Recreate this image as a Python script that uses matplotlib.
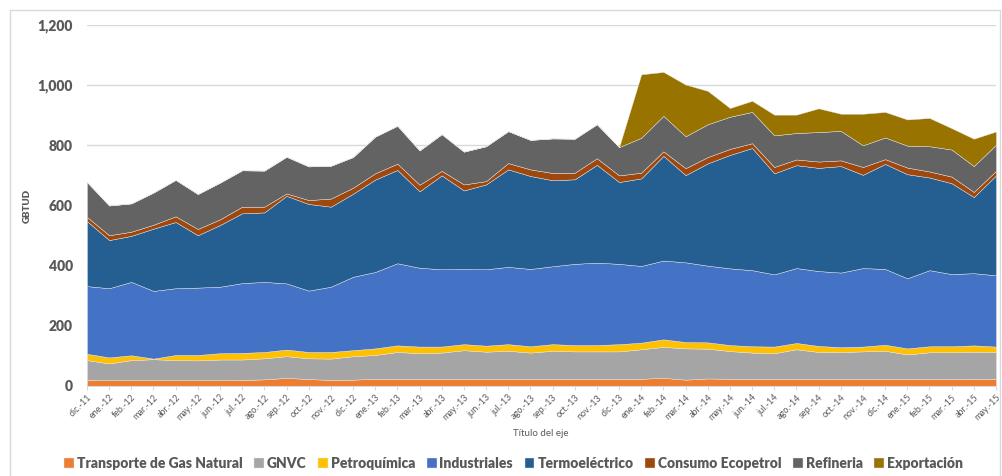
import matplotlib
matplotlib.use("Agg")
import matplotlib.pyplot as plt
from matplotlib.patches import Rectangle

plt.rcParams['font.family'] = ['Lato', 'DejaVu Sans']

meses = ["dic", "ene", "feb", "mar", "abr", "may", "jun", "jul", "ago", "sep", "oct", "nov"]
labels = []
for i in range(42):
    m = (11 + i) % 12
    yr = 11 + (11 + i) // 12
    labels.append("%s.-%d" % (meses[(m + 1) % 12], yr))

transporte = [20, 19, 19, 19, 19, 19, 19, 20, 22, 27, 23, 20, 21, 24, 24, 24, 24, 24, 24, 24, 24,
              24, 24, 24, 24, 24, 27, 21, 25, 24, 24, 24, 24, 24, 24, 24, 24, 24, 24, 23, 24, 24]
gnvc = [66, 56, 67, 70, 67, 66, 69, 68, 70, 72, 69, 71, 78, 79, 89, 85, 87, 95, 90, 93, 87,
        93, 91, 91, 91, 98, 103, 104, 99, 92, 87, 85, 98, 89, 89, 91, 93, 81, 88, 89, 90, 89]
petroquimica = [21, 20, 16, 2, 17, 18, 21, 22, 21, 22, 21, 22, 20, 22, 22, 22, 20, 20, 20, 22, 21,
                22, 21, 21, 24, 22, 25, 21, 21, 20, 21, 22, 21, 20, 16, 16, 20, 20, 20, 20, 21, 18]
industriales = [225, 230, 244, 225, 222, 224, 221, 232, 233, 220, 204, 217, 244, 254, 273, 262, 257,
                250, 254, 257, 257, 259, 270, 274, 267, 255, 262, 265, 255, 255, 253, 240, 249, 249,
                248, 261, 252, 233, 253, 240, 240, 237]
termoelectrico = [216, 160, 153, 207, 220, 174, 205, 232, 231, 291, 288, 266, 276, 307, 310, 254, 312,
                  261, 282, 324, 309, 286, 281, 325, 272, 291, 348, 290, 340, 377, 406, 336, 342, 343,
                  354, 310, 349, 346, 308, 302, 253, 332]
consumo = [14, 16, 14, 13, 19, 21, 19, 22, 19, 8, 13, 27, 20, 21, 21, 22, 15, 20, 11, 21, 22,
           24, 22, 22, 22, 19, 15, 23, 21, 20, 16, 21, 19, 21, 19, 26, 16, 22, 20, 22, 17, 15]
refineria = [116, 99, 94, 107, 121, 116, 122, 121, 120, 122, 112, 109, 102, 122, 126, 114, 122, 109,
             116, 106, 98, 115, 113, 113, 94, 116, 118, 106, 109, 107, 104, 105, 88, 98, 98, 72, 72,
             73, 84, 90, 86, 87]
exportacion = [0] * 25 + [211, 146, 172, 111, 29, 37, 69, 61, 79, 57, 105, 85, 87, 94, 71, 91, 44]

series = [transporte, gnvc, petroquimica, industriales, termoelectrico, consumo, refineria, exportacion]
nombres = ["Transporte de Gas Natural", "GNVC", "Petroquímica", "Industriales", "Termoeléctrico",
           "Consumo Ecopetrol", "Refineria", "Exportación"]
colores = ["#ED7D31", "#A5A5A5", "#FFC000", "#4472C4", "#255E91", "#9E480E", "#636363", "#997300"]

fig = plt.figure(figsize=(10.03, 4.76), dpi=100)
fig.patches.append(Rectangle((0.01, -0.01), 0.987, 0.99, transform=fig.transFigure,
                             fill=False, edgecolor="#D9D9D9", linewidth=1))
ax = fig.add_axes([0.0867, 0.1891, 0.9063, 0.7584])

x = list(range(len(labels)))
ax.stackplot(x, *series, labels=nombres, colors=colores, edgecolor="#E8E8E8", linewidth=0.3)

ax.set_xlim(0, 41)
ax.set_ylim(0, 1200)
ax.set_yticks(range(0, 1201, 200))
ax.set_yticklabels(["{:,}".format(v) for v in range(0, 1201, 200)],
                   fontsize=10, fontweight="heavy", color="#595959")
ax.set_xticks(x)
ax.set_xticklabels(labels, rotation=45, ha="right", rotation_mode="anchor",
                   fontsize=6.5, color="#595959")
ax.tick_params(axis="y", length=0, pad=10)
ax.tick_params(axis="x", length=3, color="#D9D9D9", pad=2)
ax.grid(axis="y", color="#D9D9D9", linewidth=1)
ax.set_axisbelow(True)
for s in ["top", "right", "left"]:
    ax.spines[s].set_visible(False)
ax.spines["bottom"].set_color("#D9D9D9")

ax.set_ylabel("GBTUD", fontsize=7, fontweight="heavy", color="#595959", labelpad=4)
fig.text(0.539, 1 - 433 / 476, "Título del eje", fontsize=7, color="#595959",
         ha="center", va="center")

fig.legend(loc="center", bbox_to_anchor=(0.512, 1 - 463 / 476), ncol=8, frameon=False,
           prop={"size": 10, "weight": "heavy"}, labelcolor="#595959",
           handlelength=0.7, handleheight=0.7, handletextpad=0.2, columnspacing=0.85)

fig.savefig("out.png", dpi=100)
